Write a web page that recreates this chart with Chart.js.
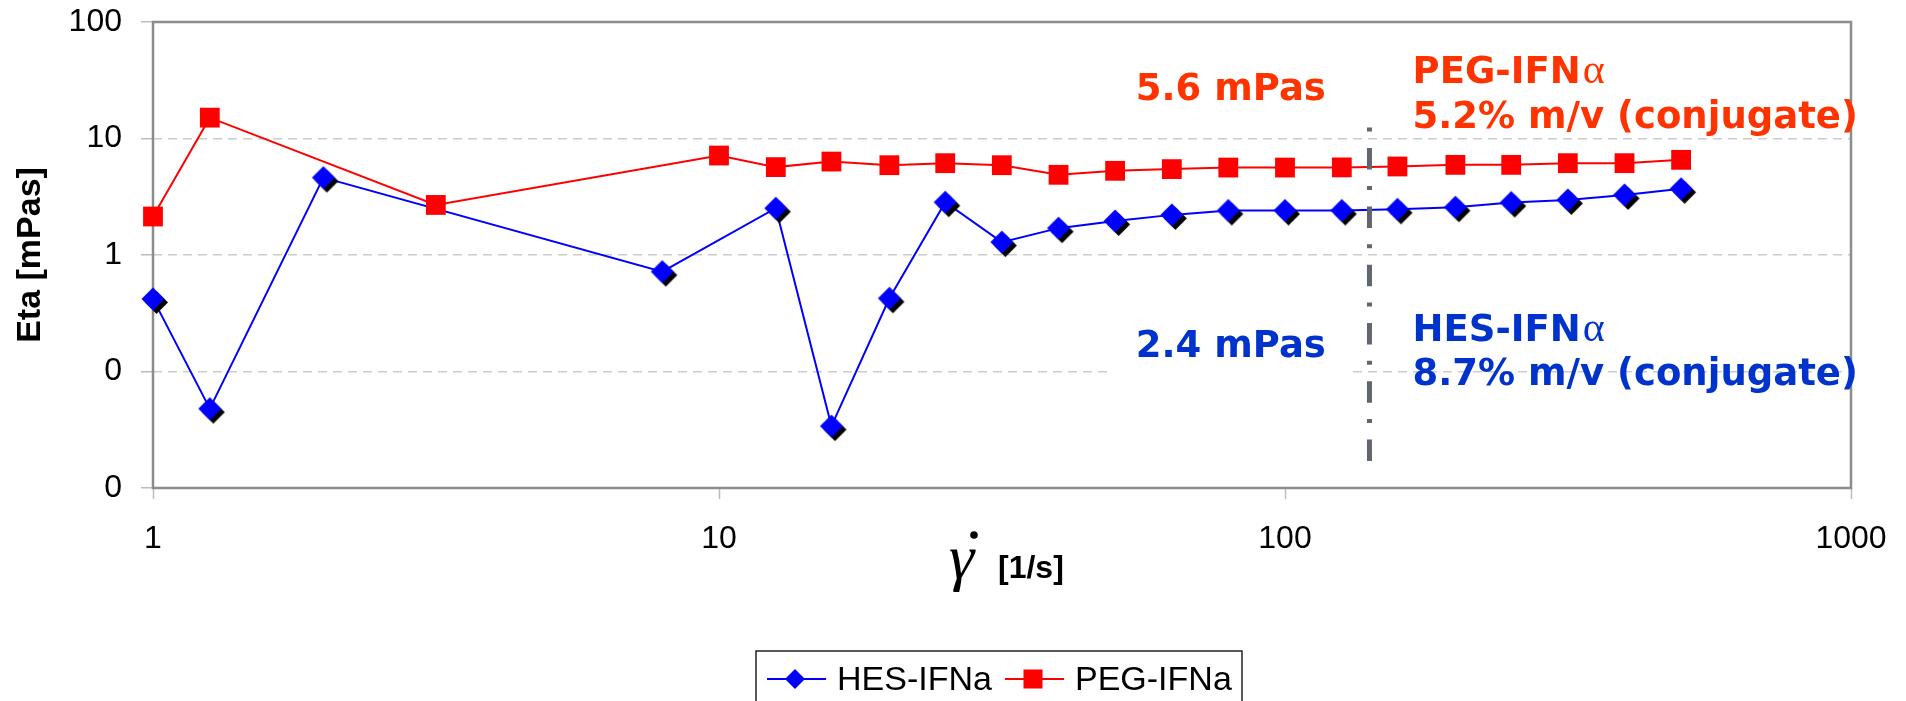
<!DOCTYPE html>
<html>
<head>
<meta charset="utf-8">
<script src="https://cdn.jsdelivr.net/npm/chart.js@4.4.0/dist/chart.umd.min.js"></script>
<style>
  html, body { margin: 0; padding: 0; background: #fff; }
  #wrap { width: 1906px; height: 701px; position: relative; }
</style>
</head>
<body>
<div id="wrap"><canvas id="chart"></canvas></div>
<script>
// shear rate [1/s] and viscosity Eta [mPas]
const hesRate = [1, 1.26, 2, 7.94, 12.6, 15.8, 20, 25.1, 31.6, 39.8, 50.1, 63.1, 79.4, 100, 126, 158, 200, 251, 316, 398, 501];
const hesEta  = [0.42, 0.048, 4.62, 0.72, 2.52, 0.034, 0.425, 2.84, 1.29, 1.70, 1.96, 2.21, 2.41, 2.41, 2.41, 2.47, 2.57, 2.82, 2.97, 3.28, 3.70];
const pegRate = [1, 1.26, 3.16, 10, 12.6, 15.8, 20, 25.1, 31.6, 39.8, 50.1, 63.1, 79.4, 100, 126, 158, 200, 251, 316, 398, 501];
const pegEta  = [2.14, 15.1, 2.69, 7.14, 5.68, 6.34, 5.90, 6.14, 5.90, 4.88, 5.28, 5.46, 5.63, 5.63, 5.65, 5.75, 5.94, 5.94, 6.14, 6.14, 6.56];

const seriesNames = ['HES-IFNa', 'PEG-IFNa'];
const xTicks = [1, 10, 100, 1000];
const xTickLabels = ['1', '10', '100', '1000'];
const yTicks = [0.01, 0.1, 1, 10, 100];
const yTickLabels = ['0', '0', '1', '10', '100'];

// dash-dot divider line
const dividerRate = [141, 141];
const dividerEta = [12.4, 0.0168];

// text notes, placed in data units (rate, eta = left / baseline)
const notes = [
  { text: '5.6 mPas', rate: 54.5, eta: 21.5, color: '#FF3300' },
  { text: 'PEG-IFNα', rate: 168, eta: 29.9, color: '#FF3300' },
  { text: '5.2% m/v (conjugate)', rate: 168, eta: 12.3, color: '#FF3300' },
  { text: '2.4 mPas', rate: 54.5, eta: 0.134, color: '#0033CC', box: true },
  { text: 'HES-IFNα', rate: 168, eta: 0.184, color: '#0033CC' },
  { text: '8.7% m/v (conjugate)', rate: 168, eta: 0.0766, color: '#0033CC' }
];

Chart.defaults.font.family = "'Liberation Sans', Arial, sans-serif";
const tickFont = { size: 32 };

function diamondPath(g, cx, cy, r) {
  g.beginPath();
  g.moveTo(cx, cy - r);
  g.lineTo(cx + r, cy);
  g.lineTo(cx, cy + r);
  g.lineTo(cx - r, cy);
  g.closePath();
}

// blue diamond with the little black drop shadow
function diamondImage(r, fill, off) {
  const size = Math.ceil(2 * (r + off + 1));
  const c = document.createElement('canvas');
  c.width = c.height = size;
  const g = c.getContext('2d');
  const m = size / 2;
  g.fillStyle = '#000';
  diamondPath(g, m + off, m + off, r);
  g.fill();
  g.fillStyle = fill;
  diamondPath(g, m, m, r);
  g.fill();
  return c;
}

function drawNote(ctx, note, x, y) {
  const parts = note.text.split('α');
  ctx.font = 'bold 37px "DejaVu Sans"';
  ctx.textAlign = 'left';
  ctx.textBaseline = 'alphabetic';
  if (note.box) {
    const w = ctx.measureText(note.text).width;
    ctx.fillStyle = '#fff';
    ctx.fillRect(x - 24, y - 42, w + 48, 64);
  }
  ctx.fillStyle = note.color;
  ctx.fillText(parts[0], x, y);
  if (parts.length > 1) {
    const w = ctx.measureText(parts[0]).width;
    ctx.font = '42px "Liberation Serif"';
    ctx.fillText('α', x + w + 2, y);
  }
}

const decor = {
  id: 'decor',
  beforeDatasetsDraw(chart) {
    const { ctx, chartArea: a } = chart;
    ctx.save();
    ctx.strokeStyle = '#8c8c8c';
    ctx.lineWidth = 2.5;
    ctx.strokeRect(a.left, a.top, a.right - a.left, a.bottom - a.top);
    ctx.restore();
  },
  afterDatasetsDraw(chart) {
    const { ctx, scales } = chart;
    ctx.save();
    notes.forEach(n => {
      drawNote(ctx, n, scales.x.getPixelForValue(n.rate), scales.y.getPixelForValue(n.eta));
    });
    ctx.restore();
  },
  afterDraw(chart) {
    const { ctx, chartArea: a } = chart;
    const cx = (a.left + a.right) / 2;
    ctx.save();
    ctx.fillStyle = '#000';
    ctx.textAlign = 'left';
    ctx.textBaseline = 'alphabetic';

    // x axis title: gamma-dot [1/s]
    ctx.font = 'italic 64px "Liberation Serif"';
    ctx.fillText('γ', cx - 53, a.bottom + 90);
    ctx.beginPath();
    ctx.arc(cx - 28, a.bottom + 47, 3.8, 0, Math.PI * 2);
    ctx.fill();
    ctx.font = 'bold 32px "Liberation Sans"';
    ctx.fillText('[1/s]', cx - 4, a.bottom + 90);

    // legend
    const lx = cx - 246, ly = a.bottom + 163;
    ctx.strokeStyle = '#222';
    ctx.lineWidth = 1.5;
    ctx.strokeRect(lx, ly, 486, 80);
    const sy = ly + 28;
    ctx.lineWidth = 2;
    ctx.strokeStyle = '#0000FF';
    ctx.beginPath(); ctx.moveTo(lx + 11, sy); ctx.lineTo(lx + 70, sy); ctx.stroke();
    ctx.fillStyle = '#0000FF';
    diamondPath(ctx, lx + 39, sy, 10);
    ctx.fill();
    ctx.strokeStyle = '#FF0000';
    ctx.beginPath(); ctx.moveTo(lx + 249, sy); ctx.lineTo(lx + 308, sy); ctx.stroke();
    ctx.fillStyle = '#FF0000';
    ctx.fillRect(lx + 277 - 9.5, sy - 9.5, 19, 19);
    ctx.fillStyle = '#000';
    ctx.font = '34px "Liberation Sans"';
    ctx.fillText(seriesNames[0], lx + 81, ly + 38.5);
    ctx.fillText(seriesNames[1], lx + 319, ly + 38.5);
    ctx.restore();
  }
};

const toPoints = (xs, ys) => xs.map((x, i) => ({ x: x, y: ys[i] }));

new Chart(document.getElementById('chart'), {
  type: 'scatter',
  data: {
    datasets: [
      {
        label: seriesNames[0],
        data: toPoints(hesRate, hesEta),
        showLine: true,
        borderColor: '#0000FF',
        backgroundColor: '#0000FF',
        borderWidth: 2,
        pointStyle: diamondImage(11.5, '#0000FF', 3.5),
        pointRadius: 11,
        order: 1,
        clip: false
      },
      {
        label: seriesNames[1],
        data: toPoints(pegRate, pegEta),
        showLine: true,
        borderColor: '#FF0000',
        backgroundColor: '#FF0000',
        borderWidth: 2,
        pointStyle: 'rect',
        pointRadius: 14,
        pointBorderWidth: 0,
        order: 0,
        clip: false
      },
      {
        label: 'divider',
        data: toPoints(dividerRate, dividerEta),
        showLine: true,
        borderColor: '#60656e',
        borderWidth: 5,
        borderDash: [4, 16.5, 21.5, 16.3],
        borderCapStyle: 'butt',
        pointRadius: 0,
        order: -1,
        clip: false
      }
    ]
  },
  options: {
    animation: false,
    responsive: true,
    maintainAspectRatio: false,
    layout: { padding: { left: 0, top: 22, right: 55, bottom: 153 } },
    plugins: {
      legend: { display: false },
      tooltip: { enabled: false }
    },
    scales: {
      x: {
        type: 'logarithmic',
        position: 'bottom',
        min: 1,
        max: 1000,
        afterBuildTicks: s => { s.ticks = xTicks.map(v => ({ value: v })); },
        afterFit: s => { s.height = 60; s.paddingLeft = 0; s.paddingRight = 0; },
        ticks: {
          callback: (v, i) => xTickLabels[i],
          font: tickFont,
          color: '#000',
          padding: 21,
          maxRotation: 0,
          autoSkip: false
        },
        grid: { drawOnChartArea: false, drawTicks: true, tickLength: 11, tickColor: '#bdbdbd', tickWidth: 1.5 },
        border: { display: false }
      },
      y: {
        type: 'logarithmic',
        min: 0.01,
        max: 100,
        afterBuildTicks: s => { s.ticks = yTicks.map(v => ({ value: v })); },
        afterFit: s => { s.width = 153; s.paddingTop = 0; s.paddingBottom = 0; },
        ticks: {
          callback: (v, i) => yTickLabels[i],
          font: tickFont,
          color: '#000',
          padding: 19,
          autoSkip: false
        },
        grid: {
          color: c => (c.tick && (c.tick.value === 0.01 || c.tick.value === 100)) ? 'rgba(0,0,0,0)' : '#cccccc',
          lineWidth: 1.5,
          tickLength: 12,
          tickColor: '#bdbdbd',
          tickWidth: 1.5
        },
        border: { display: false, dash: [9, 6] },
        title: {
          display: true,
          text: 'Eta [mPas]',
          font: { size: 34, weight: 'bold' },
          color: '#000',
          padding: { top: 10, bottom: 0 }
        }
      }
    }
  },
  plugins: [decor]
});
</script>
</body>
</html>
